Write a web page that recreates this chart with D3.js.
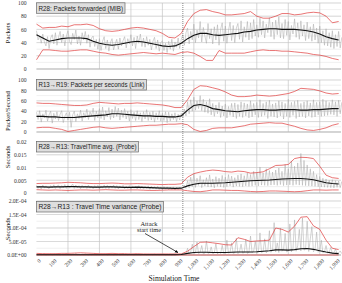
<!DOCTYPE html>
<html>
<head>
<meta charset="utf-8">
<script src="https://cdn.jsdelivr.net/npm/d3@7"></script>
<style>
  body { margin: 0; background: #fff; }
  svg { display: block; }
</style>
</head>
<body>
<svg id="chart" width="342" height="283"></svg>
<script>
// time base (simulation time units)
let smoothTimes = d3.range(0, 1921, 40)
let rawTimes = d3.range(0, 1941, 10)
let labelTimes = [0, 100, 200, 300, 400, 500, 600, 700, 800, 900, 1000, 1100, 1200, 1300, 1400, 1500, 1600, 1700, 1800, 1900]
let gridTimes = [200, 400, 600, 800, 1000, 1200, 1400, 1600, 1800]
let attackTime = 930

// R28: packets forwarded (MIB)
let packetsRaw = [58, 44, 50, 39, 53, 41, 35, 49, 31, 47, 52, 38, 55, 36, 48, 57, 40, 53, 35, 50,
    58, 42, 37, 54, 45, 59, 38, 50, 36, 55, 44, 57, 39, 52, 33, 47, 50, 34, 45, 30,
    46, 28, 42, 49, 31, 44, 27, 40, 46, 29, 38, 45, 30, 47, 35, 43, 49, 32, 46, 38,
    52, 35, 48, 31, 50, 39, 53, 34, 47, 33, 49, 36, 45, 29, 42, 48, 31, 44, 27, 40,
    43, 28, 39, 25, 42, 30, 45, 27, 41, 33, 47, 31, 45, 52, 36, 55,
    62, 38, 57, 44, 68, 40, 59, 47, 72, 41, 63, 50, 39, 69, 46, 61, 38, 64, 44, 67,
    36, 60, 70, 42, 65, 39, 58, 71, 43, 66, 40, 62, 69, 45, 73, 41, 64, 48, 72, 44,
    70, 46, 75, 50, 67, 48, 77, 52, 73, 47, 68, 55, 78, 49, 71, 45, 74, 52, 79, 47,
    69, 46, 75, 51, 72, 44, 66, 53, 76, 48, 70, 45, 73, 50, 67, 43, 71, 46, 64, 42,
    68, 44, 62, 39, 65, 40, 58, 36, 61, 35, 55, 33, 58, 31, 52, 34, 57, 32, 48]
let packetsMean = [52, 47, 42, 44, 46, 47, 47, 47, 46, 42, 39, 37, 36, 37, 39, 41, 42, 41, 39, 37,
    35, 34, 35, 39, 46, 51, 54, 54, 52, 51, 52, 53, 54, 56, 57, 59, 60, 61, 61, 60,
    60, 60, 59, 58, 56, 53, 49, 46, 44]
let packetsUpper = [68, 62, 63, 63, 65, 64, 67, 67, 68, 66, 61, 58, 57, 58, 60, 62, 63, 62, 60, 58,
    54, 48, 47, 54, 72, 84, 89, 90, 87, 85, 82, 82, 83, 84, 87, 80, 77, 77, 80, 84,
    84, 82, 83, 85, 86, 85, 80, 70, 72]
let packetsLower = [14, 29, 29, 28, 27, 27, 28, 29, 29, 27, 25, 24, 22, 21, 22, 23, 24, 25, 24, 23,
    24, 23, 22, 25, 26, 24, 19, 13, 13, 28, 24, 24, 24, 24, 26, 28, 29, 28, 28, 27,
    27, 26, 25, 24, 22, 21, 19, 16, 14]

// R13->R19: packets per second (link)
let linkRaw = [38, 24, 41, 19, 35, 27, 42, 21, 33, 40, 17, 36, 25, 39, 22, 34, 41, 18, 30, 37,
    23, 38, 9, 33, 40, 20, 35, 26, 42, 21, 37, 28, 44, 24, 39, 31, 46, 22, 40, 27,
    45, 26, 48, 23, 41, 29, 47, 24, 44, 27, 49, 30, 46, 23, 42, 28, 45, 25, 40, 21,
    43, 26, 38, 22, 41, 24, 37, 20, 39, 25, 43, 22, 38, 23, 40, 19, 37, 24, 41, 21,
    36, 22, 39, 18, 38, 21, 35, 24, 37, 20, 34, 23, 36, 28, 44, 31,
    58, 35, 62, 40, 67, 42, 60, 45, 70, 41, 63, 38, 58, 36, 64, 33, 55, 30, 52, 35,
    57, 28, 50, 31, 54, 27, 49, 32, 55, 29, 56, 26, 53, 30, 58, 28, 56, 31, 54, 27,
    60, 29, 55, 33, 57, 28, 62, 30, 55, 32, 58, 26, 61, 30, 54, 29, 56, 27, 60, 31,
    58, 25, 55, 30, 63, 28, 57, 32, 59, 26, 61, 29, 55, 30, 58, 27, 60, 31, 56, 28,
    62, 29, 57, 33, 58, 30, 63, 31, 60, 32, 57, 34, 62, 33, 58, 30, 61, 35, 57]
let linkMean = [30, 30, 29, 29, 28, 28, 28, 29, 30, 31, 32, 33, 35, 35, 34, 33, 32, 31, 31, 30,
    30, 29, 29, 31, 42, 51, 53, 50, 45, 43, 41, 40, 39, 41, 42, 43, 43, 42, 42, 43,
    43, 43, 42, 42, 43, 43, 44, 45, 45]
let linkUpper = [56, 55, 55, 54, 53, 52, 51, 51, 52, 55, 57, 56, 55, 54, 55, 55, 56, 55, 54, 53,
    52, 50, 47, 47, 62, 82, 89, 88, 85, 82, 77, 71, 68, 68, 69, 71, 70, 69, 70, 72,
    74, 78, 84, 83, 82, 79, 75, 73, 74]
let linkLower = [8, 9, 9, 7, 5, 1, 3, 5, 7, 9, 10, 8, 7, 8, 9, 10, 11, 12, 13, 13,
    14, 15, 15, 16, 14, 5, 1, 3, 7, 8, 8, 8, 10, 12, 15, 16, 17, 18, 17, 17,
    14, 11, 7, 4, 3, 5, 8, 13, 16]

// R28->R13: travel time avg (probe), seconds
let travelRaw = [0.0030, 0.0018, 0.0027, 0.0016, 0.0031, 0.0019, 0.0028, 0.0021, 0.0017, 0.0029,
    0.0020, 0.0032, 0.0018, 0.0027, 0.0031, 0.0017, 0.0029, 0.0020, 0.0033, 0.0018,
    0.0030, 0.0019, 0.0028, 0.0035, 0.0018, 0.0031, 0.0020, 0.0029, 0.0017, 0.0030,
    0.0021, 0.0028, 0.0018, 0.0031, 0.0019, 0.0027, 0.0017, 0.0029, 0.0020, 0.0030,
    0.0016, 0.0028, 0.0019, 0.0031, 0.0018, 0.0030, 0.0017, 0.0028, 0.0019, 0.0031,
    0.0018, 0.0029, 0.0016, 0.0028, 0.0020, 0.0030, 0.0017, 0.0027, 0.0018, 0.0029,
    0.0015, 0.0028, 0.0019, 0.0026, 0.0016, 0.0029, 0.0017, 0.0027, 0.0015, 0.0026,
    0.0018, 0.0028, 0.0014, 0.0027, 0.0016, 0.0025, 0.0015, 0.0026, 0.0014, 0.0024,
    0.0013, 0.0025, 0.0015, 0.0024, 0.0013, 0.0023, 0.0014, 0.0024, 0.0012, 0.0023,
    0.0014, 0.0022, 0.0015, 0.0021, 0.0030, 0.0018,
    0.0048, 0.0020, 0.0062, 0.0025, 0.0075, 0.0022, 0.0058, 0.0030, 0.0068, 0.0021,
    0.0052, 0.0027, 0.0060, 0.0024, 0.0071, 0.0023, 0.0055, 0.0020, 0.0064, 0.0026,
    0.0058, 0.0024, 0.0069, 0.0022, 0.0062, 0.0025, 0.0072, 0.0028, 0.0066, 0.0023,
    0.0060, 0.0027, 0.0070, 0.0026, 0.0075, 0.0025, 0.0068, 0.0028, 0.0078, 0.0026,
    0.0072, 0.0027, 0.0085, 0.0030, 0.0080, 0.0028, 0.0102, 0.0031, 0.0079, 0.0030,
    0.0095, 0.0029, 0.0088, 0.0031, 0.0082, 0.0032, 0.0090, 0.0030, 0.0098, 0.0033,
    0.0085, 0.0029, 0.0112, 0.0031, 0.0095, 0.0032, 0.0125, 0.0030, 0.0105, 0.0033,
    0.0118, 0.0031, 0.0155, 0.0030, 0.0128, 0.0029, 0.0110, 0.0028, 0.0095, 0.0027,
    0.0085, 0.0026, 0.0072, 0.0025, 0.0065, 0.0024, 0.0058, 0.0023, 0.0055, 0.0022,
    0.0050, 0.0021, 0.0052, 0.0020, 0.0048, 0.0022, 0.0047, 0.0021, 0.0045]
let travelMean = [0.0024, 0.0024, 0.0023, 0.0024, 0.0024, 0.0025, 0.0025, 0.0024, 0.0024, 0.0023,
    0.0023, 0.0024, 0.0024, 0.0023, 0.0022, 0.0022, 0.0023, 0.0022, 0.0021, 0.0020,
    0.0019, 0.0019, 0.0018, 0.0019, 0.0028, 0.0034, 0.0038, 0.0038, 0.0038, 0.0039,
    0.0040, 0.0042, 0.0044, 0.0046, 0.0048, 0.0049, 0.0050, 0.0051, 0.0053, 0.0055,
    0.0056, 0.0057, 0.0057, 0.0055, 0.0052, 0.0046, 0.0040, 0.0037, 0.0035]
let travelUpper = [0.0037, 0.0038, 0.0038, 0.0039, 0.0040, 0.0042, 0.0041, 0.0040, 0.0038, 0.0037,
    0.0037, 0.0038, 0.0039, 0.0038, 0.0036, 0.0036, 0.0037, 0.0036, 0.0035, 0.0034,
    0.0033, 0.0034, 0.0034, 0.0036, 0.0062, 0.0076, 0.0082, 0.0087, 0.0090, 0.0088,
    0.0084, 0.0082, 0.0086, 0.0084, 0.0078, 0.0080, 0.0083, 0.0095, 0.0108, 0.0109,
    0.0112, 0.0135, 0.0140, 0.0139, 0.0135, 0.0105, 0.0070, 0.0060, 0.0057]
let travelLower = [0.0013, 0.0012, 0.0011, 0.0012, 0.0011, 0.0010, 0.0011, 0.0012, 0.0012, 0.0011,
    0.0012, 0.0013, 0.0012, 0.0011, 0.0011, 0.0012, 0.0012, 0.0011, 0.0010, 0.0010,
    0.0011, 0.0012, 0.0012, 0.0012, 0.0009, 0.0006, 0.0005, 0.0008, 0.0012, 0.0012,
    0.0011, 0.0010, 0.0010, 0.0008, 0.0006, 0.0005, 0.0006, 0.0008, 0.0008, 0.0007,
    0.0006, 0.0005, 0.0006, 0.0009, 0.0012, 0.0012, 0.0011, 0.0012, 0.0012]

// R28->R13: travel time variance (probe), in units of 1E-04
let varianceRaw = [0.02, 0.00, 0.03, 0.01, 0.02, 0.04, 0.00, 0.02, 0.01, 0.03, 0.00, 0.02, 0.04, 0.01, 0.02, 0.00,
    0.03, 0.01, 0.02, 0.05, 0.01, 0.02, 0.00, 0.03, 0.02, 0.06, 0.01, 0.02, 0.00, 0.03, 0.01, 0.04,
    0.02, 0.00, 0.03, 0.01, 0.02, 0.05, 0.01, 0.02, 0.00, 0.03, 0.01, 0.02, 0.04, 0.00, 0.02, 0.01,
    0.03, 0.00, 0.02, 0.01, 0.03, 0.00, 0.02, 0.04, 0.01, 0.02, 0.00, 0.03, 0.01, 0.02, 0.00, 0.03,
    0.01, 0.02, 0.00, 0.02, 0.01, 0.03, 0.00, 0.02, 0.01, 0.02, 0.00, 0.03, 0.01, 0.02, 0.00, 0.02,
    0.01, 0.03, 0.00, 0.02, 0.01, 0.02, 0.00, 0.02, 0.01, 0.02, 0.00, 0.03, 0.02, 0.04, 0.03, 0.06,
    0.25, 0.04, 0.12, 0.40, 0.06, 0.08, 0.48, 0.05, 0.10, 0.35, 0.04, 0.07, 0.52, 0.06, 0.09, 0.30,
    0.05, 0.08, 0.42, 0.04, 0.11, 0.06, 0.36, 0.05, 0.09, 0.55, 0.07, 0.10, 0.45, 0.06, 0.08, 0.62,
    0.05, 0.12, 0.40, 0.07, 0.09, 0.58, 0.06, 0.10, 0.70, 0.08, 0.14, 0.50, 0.07, 0.11, 0.82, 0.09,
    0.13, 0.60, 0.08, 0.15, 0.90, 0.10, 0.18, 1.20, 0.12, 0.45, 0.09, 1.00, 0.14, 0.20, 0.80, 0.11,
    0.16, 1.15, 0.12, 0.25, 1.30, 0.14, 0.35, 0.95, 0.15, 1.37, 0.18, 0.22, 1.25, 0.13, 0.60, 1.05,
    0.12, 0.20, 0.85, 0.10, 0.16, 0.55, 0.08, 0.12, 0.35, 0.07, 0.10, 0.28, 0.06, 0.09, 0.22, 0.05,
    0.08, 0.15, 0.05]
let varianceMean = [0.01, 0.01, 0.01, 0.01, 0.01, 0.01, 0.01, 0.01, 0.01, 0.01, 0.01, 0.01, 0.01, 0.01, 0.01, 0.01,
    0.01, 0.01, 0.01, 0.01, 0.01, 0.01, 0.01,
    0.02, 0.06, 0.09, 0.10, 0.10, 0.09, 0.09, 0.09, 0.10, 0.11, 0.11, 0.11, 0.12, 0.14, 0.16, 0.19,
    0.19, 0.18, 0.20, 0.23, 0.24, 0.21, 0.16, 0.11, 0.07, 0.05]
let varianceUpper = [0.06, 0.05, 0.05, 0.05, 0.06, 0.06, 0.07, 0.08, 0.07, 0.06, 0.05, 0.05, 0.06, 0.05, 0.05, 0.04,
    0.05, 0.04, 0.04, 0.04, 0.04, 0.04, 0.04,
    0.04, 0.14, 0.31, 0.47, 0.48, 0.45, 0.42, 0.38, 0.37, 0.64, 0.58, 0.50, 0.52, 0.53, 0.55, 1.00,
    0.95, 0.85, 1.07, 1.40, 1.42, 1.08, 0.95, 0.55, 0.25, 0.20]
let varianceLower = [0, 0, 0, 0, 0, 0, 0, 0, 0, 0, 0, 0, 0, 0, 0, 0, 0, 0, 0, 0, 0, 0, 0, 0, 0,
    0, 0, 0, 0, 0, 0, 0, 0, 0, 0, 0, 0, 0, 0, 0, 0, 0, 0, 0, 0, 0, 0, 0, 0]

let countTicks = [0, 20, 40, 60, 80, 100]
let countTickLabels = ["0", "20", "40", "60", "80", "100"]
let travelTicks = [0, 0.005, 0.01, 0.015, 0.02]
let travelTickLabels = ["0", "0.005", "0.01", "0.015", "0.02"]
let varianceTicks = [0, 0.5, 1, 1.5, 2]
let varianceTickLabels = ["0.0E+00", "5.0E-05", "1.0E-04", "1.5E-04", "2.0E-04"]

let svg = d3.select("#chart")
let serif = "'Liberation Serif', 'DejaVu Serif', serif"
let sans = "'Liberation Sans', Arial, sans-serif"

let xScale = d3.scaleLinear().domain([0, 1935]).range([36.5, 341])

function drawPanel(p) {
    let yScale = d3.scaleLinear().domain([0, p.max]).range([p.bottom, p.top])
    let g = svg.append("g")

    // minor + major horizontal grid
    g.selectAll(".minor")
        .data(d3.range(0, p.max + p.minor / 2, p.minor))
        .enter().append("line")
        .attr("x1", xScale.range()[0]).attr("x2", xScale.range()[1])
        .attr("y1", d => yScale(d)).attr("y2", d => yScale(d))
        .attr("stroke", "#e6e6e6").attr("stroke-width", 0.6)
    g.selectAll(".major")
        .data(p.ticks)
        .enter().append("line")
        .attr("x1", xScale.range()[0]).attr("x2", xScale.range()[1])
        .attr("y1", d => yScale(d)).attr("y2", d => yScale(d))
        .attr("stroke", "#d0d0d0").attr("stroke-width", 0.7)
    g.selectAll(".vgrid")
        .data(gridTimes)
        .enter().append("line")
        .attr("x1", d => xScale(d)).attr("x2", d => xScale(d))
        .attr("y1", p.top).attr("y2", p.bottom)
        .attr("stroke", "#c4c4c4").attr("stroke-width", 0.7)
    g.append("line")
        .attr("x1", xScale.range()[0]).attr("x2", xScale.range()[1])
        .attr("y1", p.bottom).attr("y2", p.bottom)
        .attr("stroke", "#b0b0b0").attr("stroke-width", 0.7)

    let axisY = d3.axisLeft(yScale)
        .tickValues(p.ticks)
        .tickFormat((d, i) => p.labels[i])
        .tickSize(0)
        .tickPadding(10)
    let ax = g.append("g")
        .attr("transform", `translate(${xScale.range()[0]},0)`)
        .call(axisY)
    ax.select(".domain").remove()
    ax.selectAll("text")
        .style("font-family", serif)
        .style("font-size", "5.6px")
        .attr("fill", "#333")

    let line = d3.line()
        .x(d => xScale(d[0]))
        .y(d => yScale(d[1]))

    g.append("path")
        .datum(d3.zip(rawTimes, p.raw))
        .attr("d", line)
        .attr("fill", "none")
        .attr("stroke", "#a8a8a8")
        .attr("stroke-width", 0.5)
    ;[p.upper, p.lower].forEach(series => {
        g.append("path")
            .datum(d3.zip(smoothTimes, series))
            .attr("d", line)
            .attr("fill", "none")
            .attr("stroke", "#e03a3a")
            .attr("stroke-width", 0.7)
    })
    g.append("path")
        .datum(d3.zip(smoothTimes, p.mean))
        .attr("d", line)
        .attr("fill", "none")
        .attr("stroke", "#111")
        .attr("stroke-width", 1.1)

    // title box
    g.append("rect")
        .attr("x", 36.5).attr("y", p.boxTop)
        .attr("width", p.boxWidth).attr("height", 10.5)
        .attr("fill", "#dedede")
        .attr("stroke", "#6a6a6a").attr("stroke-width", 0.7)
    g.append("text")
        .attr("x", 38.5).attr("y", p.boxTop + 7.9)
        .attr("textLength", p.boxWidth - 4)
        .attr("lengthAdjust", "spacingAndGlyphs")
        .style("font-family", sans)
        .style("font-size", "6.6px")
        .attr("fill", "#222")
        .text(p.title)

    // y axis title
    g.append("text")
        .attr("transform", `translate(10,${p.labelY}) rotate(-90)`)
        .attr("text-anchor", "middle")
        .style("font-family", serif)
        .style("font-size", "6.8px")
        .attr("fill", "#222")
        .text(p.yTitle)
}

let panels = [
    {top: 3, bottom: 69, max: 100, minor: 10, ticks: countTicks, labels: countTickLabels,
        raw: packetsRaw, mean: packetsMean, upper: packetsUpper, lower: packetsLower,
        title: "R28: Packets forwarded (MIB)", boxTop: 2.8, boxWidth: 88.5, yTitle: "Packets", labelY: 33},
    {top: 80, bottom: 132, max: 100, minor: 10, ticks: countTicks, labels: countTickLabels,
        raw: linkRaw, mean: linkMean, upper: linkUpper, lower: linkLower,
        title: "R13\u2192R19: Packets per seconds (Link)", boxTop: 79.5, boxWidth: 110, yTitle: "Packet/Second", labelY: 111},
    {top: 142, bottom: 193, max: 0.02, minor: 0.0025, ticks: travelTicks, labels: travelTickLabels,
        raw: travelRaw, mean: travelMean, upper: travelUpper, lower: travelLower,
        title: "R28\u2192R13: TravelTime avg. (Probe)", boxTop: 141.5, boxWidth: 102, yTitle: "Seconds", labelY: 157},
    {top: 201, bottom: 255, max: 2, minor: 0.25, ticks: varianceTicks, labels: varianceTickLabels,
        raw: varianceRaw, mean: varianceMean, upper: varianceUpper, lower: varianceLower,
        title: "R28\u2192R13 : Travel Time variance (Probe)", boxTop: 201.5, boxWidth: 127, yTitle: "Seconds", labelY: 229}
]

panels.forEach(drawPanel)

// x axis on the bottom panel
let axisX = d3.axisBottom(xScale)
    .tickValues(labelTimes)
    .tickFormat(d3.format(","))
    .tickSize(0)
let xa = svg.append("g")
    .attr("transform", "translate(0,257)")
    .call(axisX)
xa.select(".domain").remove()
xa.selectAll("text")
    .attr("text-anchor", "end")
    .attr("dy", "0.3em")
    .attr("transform", "translate(1,1) rotate(-45)")
    .style("font-family", serif)
    .style("font-size", "5.6px")
    .attr("fill", "#333")

svg.append("text")
    .attr("x", 174).attr("y", 281)
    .attr("text-anchor", "middle")
    .style("font-family", serif)
    .style("font-size", "7.6px")
    .attr("fill", "#222")
    .text("Simulation Time")

// attack marker
svg.append("line")
    .attr("x1", xScale(attackTime)).attr("x2", xScale(attackTime))
    .attr("y1", 3).attr("y2", 232)
    .attr("stroke", "#555")
    .attr("stroke-width", 0.7)
    .attr("stroke-dasharray", "1,1")

svg.append("defs").append("marker")
    .attr("id", "arrow")
    .attr("viewBox", "0 0 10 10")
    .attr("refX", 9).attr("refY", 5)
    .attr("markerWidth", 5).attr("markerHeight", 5)
    .attr("orient", "auto")
    .append("path")
    .attr("d", "M0,1 L10,5 L0,9 z")
    .attr("fill", "#000")

svg.append("line")
    .attr("x1", 145).attr("y1", 233.5)
    .attr("x2", 178).attr("y2", 252.5)
    .attr("stroke", "#000")
    .attr("stroke-width", 0.7)
    .attr("marker-end", "url(#arrow)")

let note = svg.append("text")
    .attr("text-anchor", "middle")
    .style("font-family", serif)
    .style("font-size", "6.4px")
    .attr("fill", "#222")
note.append("tspan").attr("x", 149).attr("y", 225.5).text("Attack")
note.append("tspan").attr("x", 149).attr("y", 232).text("start time")
</script>
</body>
</html>
